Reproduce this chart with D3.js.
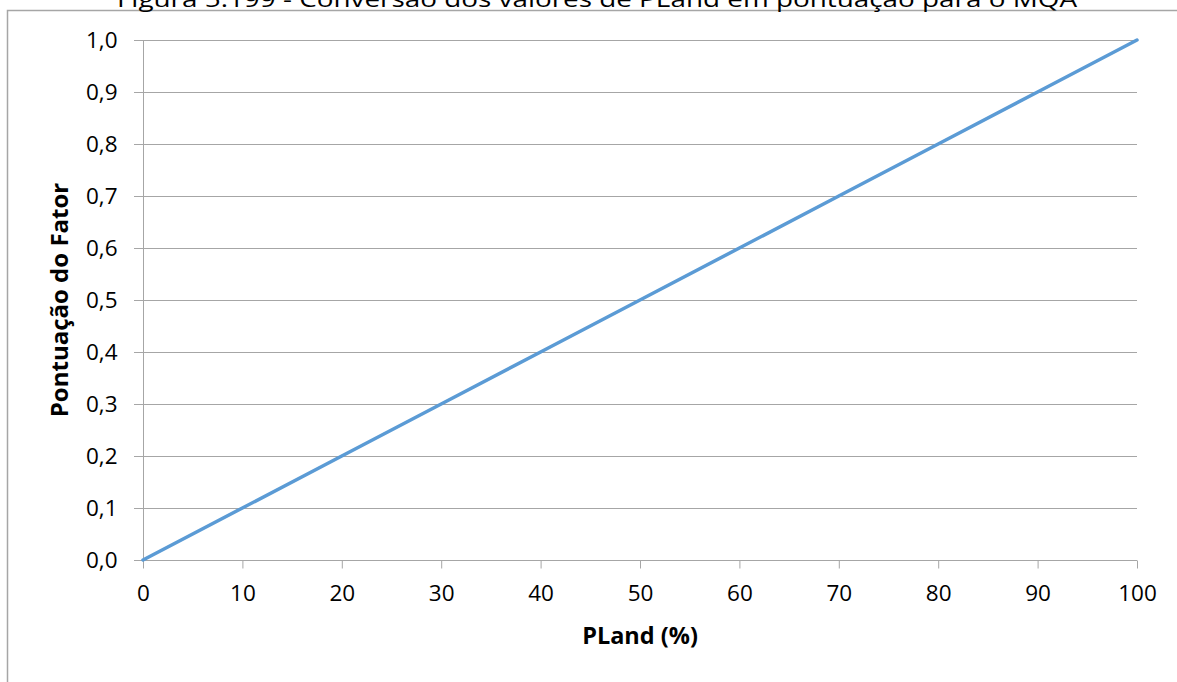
<!DOCTYPE html>
<html><head><meta charset="utf-8">
<script src="https://cdn.jsdelivr.net/npm/d3@7"></script>
<style>body{margin:0;background:#fff}svg{display:block}</style>
</head><body>
<svg id="c" width="1177" height="682"></svg>
<script>
const title = "Figura 5.199 - Conversão dos valores de PLand em pontuação para o MQA";
const xTitle = "PLand (%)";
const yTitle = "Pontuação do Fator";
const pland = [0, 10, 20, 30, 40, 50, 60, 70, 80, 90, 100];
const score = [0, 0.1, 0.2, 0.3, 0.4, 0.5, 0.6, 0.7, 0.8, 0.9, 1.0];
const xTicks = [0, 10, 20, 30, 40, 50, 60, 70, 80, 90, 100];
const yTicks = [0, 0.1, 0.2, 0.3, 0.4, 0.5, 0.6, 0.7, 0.8, 0.9, 1.0];

const svg = d3.select("#c");
const font = "'Open Sans', sans-serif";
const x = d3.scaleLinear().domain([0, 100]).range([143, 1137]);
const y = d3.scaleLinear().domain([0, 1]).range([560, 40]);
const grid = "#a6a6a6";
const fmt = v => d3.format(".1f")(v).replace(".", ",");

// outer border
svg.append("path").attr("d", "M7.5,700 V10.5 H1200").attr("fill", "none").attr("stroke", "#a6a6a6").attr("stroke-width", 1.5);

// title (clipped at top, as in the source)
svg.append("text").attr("x", 597).attr("y", 7).attr("text-anchor", "middle")
  .attr("font-family", font).attr("font-size", 21).attr("fill", "#000")
  .attr("textLength", 960).attr("lengthAdjust", "spacingAndGlyphs").text(title);

// gridlines
svg.append("g").selectAll("line").data(yTicks.filter(d => d > 0)).join("line")
  .attr("x1", 134).attr("x2", 1137).attr("y1", d => Math.round(y(d)) + 0.5).attr("y2", d => Math.round(y(d)) + 0.5)
  .attr("stroke", grid).attr("stroke-width", 1);

// y axis
const ya = svg.append("g").attr("transform", "translate(143.5,0)")
  .call(d3.axisLeft(y).tickValues(yTicks).tickSize(9).tickPadding(17).tickFormat(fmt));
ya.selectAll("path.domain").attr("stroke", grid).attr("d", `M0,${y(1)}V${y(0)}`);
ya.selectAll(".tick line").attr("stroke", grid);
ya.selectAll("text").attr("font-family", font).attr("font-size", 22.5).attr("fill", "#000");

// x axis
const xa = svg.append("g").attr("transform", "translate(0,560.5)")
  .call(d3.axisBottom(x).tickValues(xTicks).tickSize(8).tickPadding(17).tickFormat(d3.format("d")));
xa.selectAll("path.domain").attr("stroke", grid).attr("d", `M134,0H${x(100)}`);
xa.selectAll(".tick line").attr("stroke", grid);
xa.selectAll("text").attr("font-family", font).attr("font-size", 22.5).attr("fill", "#000");

// line
svg.append("path").datum(pland.map((p, i) => [p, score[i]]))
  .attr("fill", "none").attr("stroke", "#5b9bd5").attr("stroke-width", 3.5).attr("stroke-linecap", "round")
  .attr("d", d3.line().x(d => x(d[0])).y(d => y(d[1])));

// axis titles
svg.append("text").attr("x", 640).attr("y", 644).attr("text-anchor", "middle")
  .attr("font-family", font).attr("font-size", 23.5).attr("font-weight", "bold").text(xTitle);
svg.append("text").attr("transform", "translate(68,300) rotate(-90)").attr("text-anchor", "middle")
  .attr("font-family", font).attr("font-size", 24).attr("font-weight", "bold").text(yTitle);
</script>
</body></html>
